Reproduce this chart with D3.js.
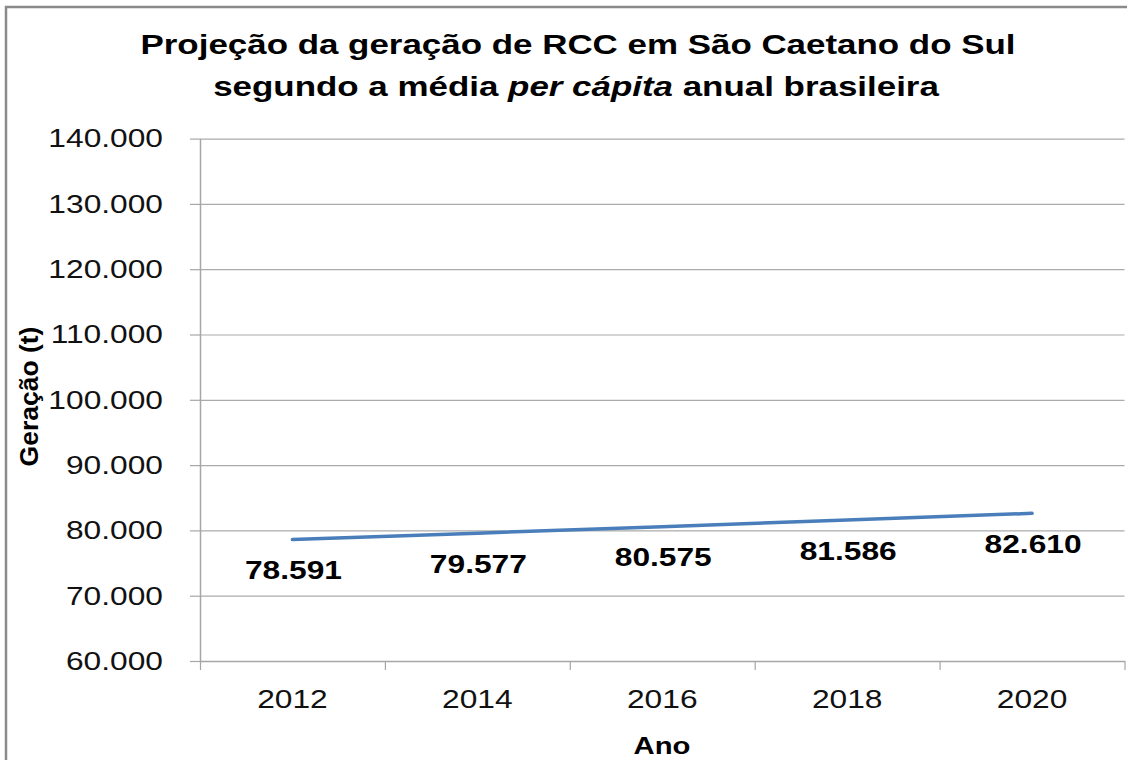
<!DOCTYPE html>
<html>
<head>
<meta charset="utf-8">
<script src="https://cdn.jsdelivr.net/npm/d3@7"></script>
<style>
  html, body { margin: 0; padding: 0; background: #fff; }
  svg { display: block; font-family: Arial, "Liberation Sans", sans-serif; }
</style>
</head>
<body>
<div id="chart"></div>
<script>
const years = ['2012', '2014', '2016', '2018', '2020'];
const generation = [78591, 79577, 80575, 81586, 82610];
const yTicks = [60000, 70000, 80000, 90000, 100000, 110000, 120000, 130000, 140000];
const titleLine1 = 'Projeção da geração de RCC em São Caetano do Sul';
const titleLine2 = ['segundo a média ', 'per cápita', ' anual brasileira'];

const W = 1127, H = 760;
const plotLeft = 200, plotRight = 1124.5, plotTop = 138.6, plotBottom = 661;
const sx = 1.22;   // text in the picture is wider than plain Arial

const ptBR = d3.formatLocale({ decimal: ',', thousands: '.', grouping: [3], currency: ['R$', ''] });
const fmt = ptBR.format(',d');

const svg = d3.select('#chart').append('svg')
  .attr('width', W)
  .attr('height', H);

// chart frame
svg.append('rect')
  .attr('x', 6).attr('y', 7)
  .attr('width', W + 20).attr('height', H + 20)
  .attr('fill', 'none')
  .attr('stroke', '#8a8a8a')
  .attr('stroke-width', 2.5);

const x = d3.scaleBand().domain(years).range([plotLeft, plotRight]);
const xEdges = d3.scaleLinear().domain([0, years.length]).range([plotLeft, plotRight]);
const y = d3.scaleLinear().domain([60000, 140000]).range([plotBottom, plotTop]);
const cx = d => x(d) + x.bandwidth() / 2;

// gridlines
svg.append('g')
  .attr('transform', `translate(${plotLeft},0)`)
  .call(d3.axisLeft(y).tickValues(yTicks).tickSize(-(plotRight - plotLeft)).tickFormat(''))
  .call(g => g.select('.domain').remove())
  .call(g => g.selectAll('line').attr('stroke', '#ababab').attr('stroke-width', 1.2));

// y axis
svg.append('g')
  .attr('transform', `translate(${plotLeft},0)`)
  .call(d3.axisLeft(y).tickValues(yTicks).tickSize(10).tickSizeOuter(0).tickFormat(fmt))
  .call(g => g.select('.domain').attr('stroke', '#a6a6a6').attr('stroke-width', 1.5))
  .call(g => g.selectAll('line').attr('stroke', '#a6a6a6').attr('stroke-width', 1.2))
  .call(g => g.selectAll('text')
    .attr('font-size', 26)
    .attr('font-family', 'Arial, "Liberation Sans", sans-serif')
    .attr('fill', '#111')
    .attr('x', -37 / sx)
    .attr('dy', '0.32em')
    .attr('transform', `scale(${sx},1)`));

// x axis: tick marks between categories
svg.append('g')
  .attr('transform', `translate(0,${plotBottom})`)
  .call(d3.axisBottom(xEdges).ticks(years.length).tickSize(9).tickSizeOuter(0).tickFormat(''))
  .call(g => g.select('.domain').attr('stroke', '#a6a6a6').attr('stroke-width', 1.5))
  .call(g => g.selectAll('line').attr('stroke', '#a6a6a6').attr('stroke-width', 1.2));

// x axis labels
svg.append('g')
  .attr('transform', `translate(0,${plotBottom})`)
  .call(d3.axisBottom(x).tickSize(0).tickPadding(0))
  .call(g => g.select('.domain').remove())
  .call(g => g.selectAll('.tick').each(function () {
    // keep the label centred when it is stretched
    const t = d3.select(this);
    const tx = +t.attr('transform').match(/translate\(([^,]+)/)[1];
    t.attr('transform', `translate(${tx},0) scale(${sx},1)`);
  }))
  .call(g => g.selectAll('text')
    .attr('font-size', 26)
    .attr('font-family', 'Arial, "Liberation Sans", sans-serif')
    .attr('fill', '#111')
    .attr('y', 47)
    .attr('dy', 0));

// line
const line = d3.line()
  .x((d, i) => cx(years[i]))
  .y(d => y(d));

svg.append('path')
  .datum(generation)
  .attr('fill', 'none')
  .attr('stroke', '#4a7ebb')
  .attr('stroke-width', 3.5)
  .attr('stroke-linecap', 'round')
  .attr('stroke-linejoin', 'round')
  .attr('d', line);

// data labels, below the points
svg.append('g')
  .selectAll('text')
  .data(generation)
  .join('text')
  .attr('transform', (d, i) => `translate(${cx(years[i]) + 1},${y(d) + 39.5}) scale(${sx},1)`)
  .attr('text-anchor', 'middle')
  .attr('font-size', 26)
  .attr('font-weight', 'bold')
  .attr('fill', '#000')
  .text(d => fmt(d));

// title
const tsx = 1.27;
const title = svg.append('g')
  .attr('font-weight', 'bold')
  .attr('font-size', 27.5)
  .attr('fill', '#000')
  .attr('text-anchor', 'middle');

title.append('text')
  .attr('transform', `translate(578,54) scale(${tsx},1)`)
  .text(titleLine1);

title.append('text')
  .attr('transform', `translate(576,95.5) scale(${tsx},1)`)
  .selectAll('tspan')
  .data(titleLine2)
  .join('tspan')
  .attr('font-style', (d, i) => i === 1 ? 'italic' : 'normal')
  .text(d => d);

// axis titles
svg.append('text')
  .attr('transform', `translate(662,754) scale(${sx},1)`)
  .attr('text-anchor', 'middle')
  .attr('font-size', 24)
  .attr('font-weight', 'bold')
  .text('Ano');

svg.append('text')
  .attr('transform', 'translate(37.5,396.5) rotate(-90)')
  .attr('text-anchor', 'middle')
  .attr('font-size', 26.5)
  .attr('font-weight', 'bold')
  .text('Geração (t)');
</script>
</body>
</html>
